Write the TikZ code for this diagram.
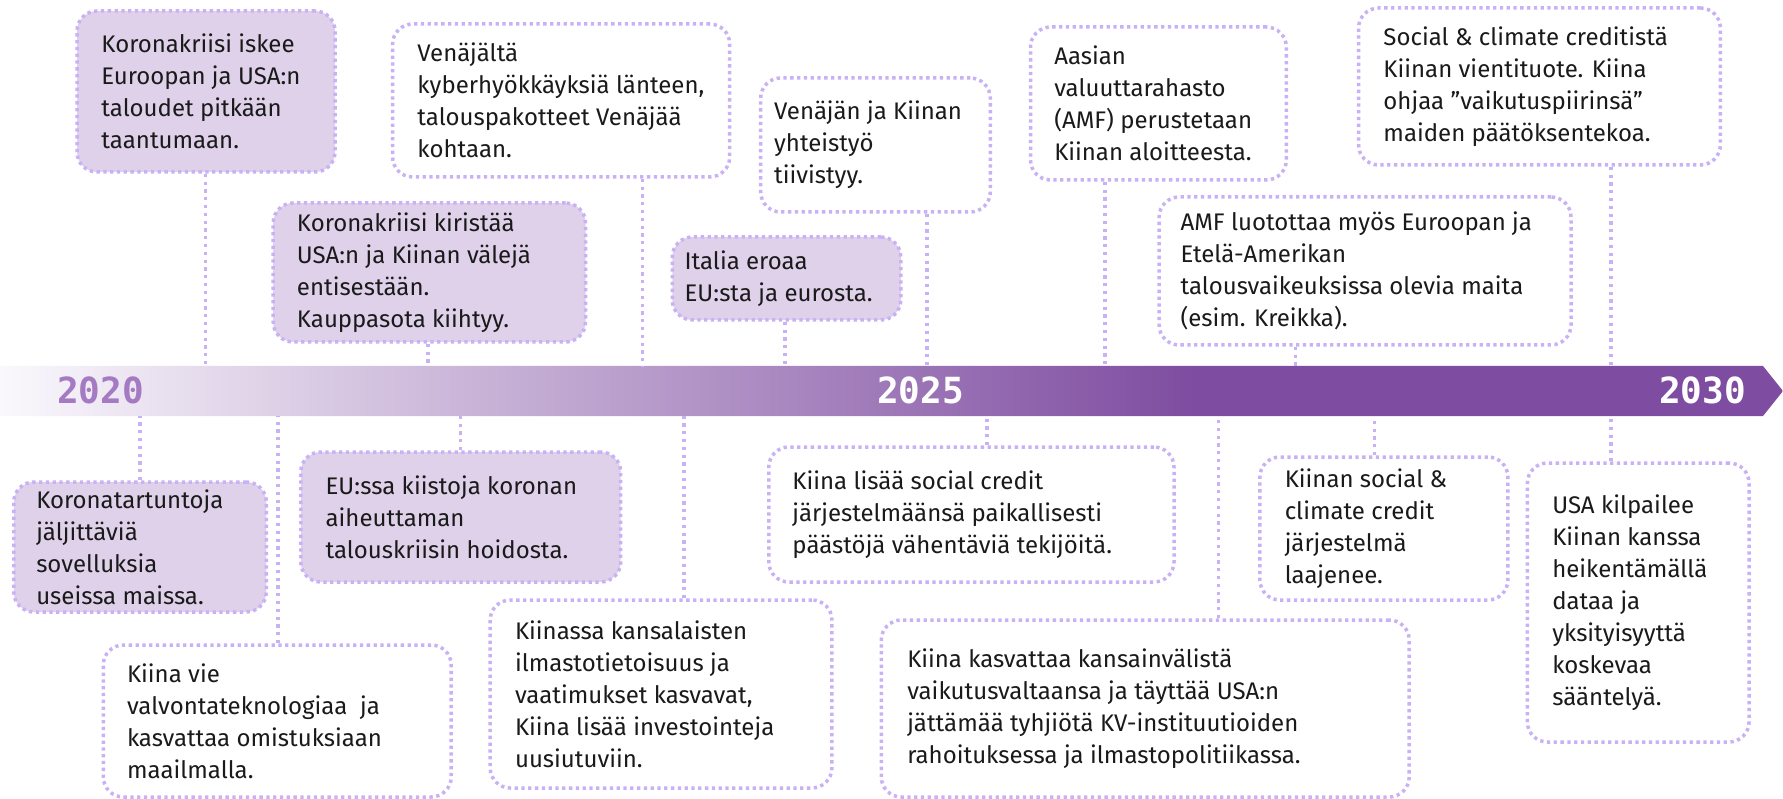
\documentclass[tikz,border=0pt]{standalone}
\usepackage{fontspec}
\setmainfont{Fira Sans}
\newfontfamily\yearfont{DejaVu Sans Mono}
\usetikzlibrary{fit}

\definecolor{boxfill}{HTML}{DED1E9}
\definecolor{boxline}{HTML}{C8B2F5}
\definecolor{barL}{HTML}{FAF8FC}
\definecolor{barR}{HTML}{7E4CA0}
\definecolor{yearlight}{HTML}{A47AC3}
\definecolor{txtcol}{HTML}{1A1A1A}

% horizontal shading: the path's bounding box covers 25bp..75bp
\pgfdeclarehorizontalshading{barshade}{100bp}{%
  color(0bp)=(barL); color(25bp)=(barL); color(58.6bp)=(barR); color(100bp)=(barR)}

\tikzset{
  evbase/.style={draw=boxline, line width=3.5pt, dash pattern=on 3.3pt off 3.5pt, rounded corners=20pt, inner sep=0pt},
  evfilled/.style={evbase, fill=boxfill},
  evwhite/.style={evbase, fill=white},
  evtext/.style={inner sep=0pt, align=left, text=txtcol, font=\fontsize{24}{32}\selectfont},
  conn/.style={draw=boxline, line width=3.5pt, dash pattern=on 3.3pt off 4.5pt},
  yearlabel/.style={font=\yearfont\bfseries\fontsize{36}{36}\selectfont, inner sep=0pt, anchor=base west},
}

% name, left, top, right, bottom, style, pad, text
\newcommand\evbox[8]{%
  \node[#6, fit={(#2,#3) (#4,#5)}] (#1) {};
  \node[evtext, anchor=west, xshift=#7pt] (#1t) at (#1.west) {#8};
}
% name, x, box anchor, bar anchor
\newcommand\evconn[4]{%
  \coordinate (#1c) at (#2,0);
  \draw[conn] (#1.#3 -| #1c) -- (bar.#4 -| #1c);
}

\begin{document}
\begin{tikzpicture}[x=1pt, y=-1pt]
\useasboundingbox (0,0) rectangle (1783,799);

% timeline bar (one arrow-shaped path with a gradient)
\shade[shading=barshade] (0,366) -- (1763,366) -- (1783,391) -- (1763,416) -- (0,416) -- cycle;
\node[inner sep=0pt, minimum width=1763pt, minimum height=50pt, anchor=north west] (bar) at (0,366) {};

\node[yearlabel, text=yearlight] (y2020) at (57,403) {2020};
\node[yearlabel, text=white] (y2025) at (877,403) {2025};
\node[yearlabel, text=white] (y2030) at (1659,403) {2030};

% event boxes
\evbox{A}{77}{11}{335}{172}{evfilled}{26}{Koronakriisi iskee\\Euroopan ja USA:n\\taloudet pitkään\\taantumaan.}
\evbox{B}{392.6}{24}{729.7}{177}{evwhite}{26.4}{Venäjältä\\kyberhyökkäyksiä länteen,\\talouspakotteet Venäjää\\kohtaan.}
\evbox{C}{273.2}{203}{585.5}{342}{evfilled}{25.3}{Koronakriisi kiristää\\USA:n ja Kiinan välejä\\entisestään.\\Kauppasota kiihtyy.}
\evbox{D}{760.7}{78}{990.3}{212}{evwhite}{15}{Venäjän ja Kiinan\\yhteistyö\\tiivistyy.}
\evbox{E}{672.3}{237}{900.8}{320}{evfilled}{13.8}{Italia eroaa\\EU:sta ja eurosta.}
\evbox{F}{1030.5}{27}{1286.3}{180}{evwhite}{25.3}{Aasian\\valuuttarahasto\\(AMF) perustetaan\\Kiinan aloitteesta.}
\evbox{G}{1159.1}{197}{1571}{345}{evwhite}{23}{AMF luotottaa myös Euroopan ja\\Etelä-Amerikan\\talousvaikeuksissa olevia maita\\(esim. Kreikka).}
\evbox{H}{1358.6}{8}{1720.3}{165}{evwhite}{26.4}{Social \& climate creditistä\\Kiinan vientituote. Kiina\\ohjaa ”vaikutuspiirinsä”\\maiden päätöksentekoa.}
\evbox{I}{13.8}{482}{266.3}{612}{evfilled}{24}{Koronatartuntoja\\jäljittäviä\\sovelluksia\\useissa maissa.}
\evbox{J}{300.8}{452}{620.7}{582}{evfilled}{26.4}{EU:ssa kiistoja koronan\\aiheuttaman\\talouskriisin hoidosta.}
\evbox{K}{103.3}{645}{451.2}{797}{evwhite}{25.3}{Kiina vie\\valvontateknologiaa\ \ ja\\kasvattaa omistuksiaan\\maailmalla.}
\evbox{L}{490.2}{600}{831.9}{788}{evwhite}{26.4}{Kiinassa kansalaisten\\ilmastotietoisuus ja\\vaatimukset kasvavat,\\Kiina lisää investointeja\\uusiutuviin.}
\evbox{M}{768.8}{447}{1174}{582}{evwhite}{25.2}{Kiina lisää social credit\\järjestelmäänsä paikallisesti\\päästöjä vähentäviä tekijöitä.}
\evbox{N}{881.3}{620}{1409.2}{797}{evwhite}{27.5}{Kiina kasvattaa kansainvälistä\\vaikutusvaltaansa ja täyttää USA:n\\jättämää tyhjiötä KV-instituutioiden\\rahoituksessa ja ilmastopolitiikassa.}
\evbox{O}{1259.9}{457}{1507.9}{600}{evwhite}{26.4}{Kiinan social \&\\climate credit\\järjestelmä\\laajenee.}
\evbox{P}{1527.4}{463}{1749}{742}{evwhite}{26.4}{USA kilpailee\\Kiinan kanssa\\heikentämällä\\dataa ja\\yksityisyyttä\\koskevaa\\sääntelyä.}

% connectors
\evconn{A}{205.5}{south}{north}
\evconn{B}{642.5}{south}{north}
\evconn{C}{428.2}{south}{north}
\evconn{D}{927.2}{south}{north}
\evconn{E}{784.8}{south}{north}
\evconn{F}{1105.1}{south}{north}
\evconn{G}{1295.5}{south}{north}
\evconn{H}{1611.2}{south}{north}
\evconn{I}{140}{north}{south}
\evconn{J}{460.3}{north}{south}
\evconn{K}{277.8}{north}{south}
\evconn{L}{683.8}{north}{south}
\evconn{M}{986.9}{north}{south}
\evconn{N}{1218.6}{north}{south}
\evconn{O}{1374.7}{north}{south}
\evconn{P}{1611.2}{north}{south}
\end{tikzpicture}
\end{document}
